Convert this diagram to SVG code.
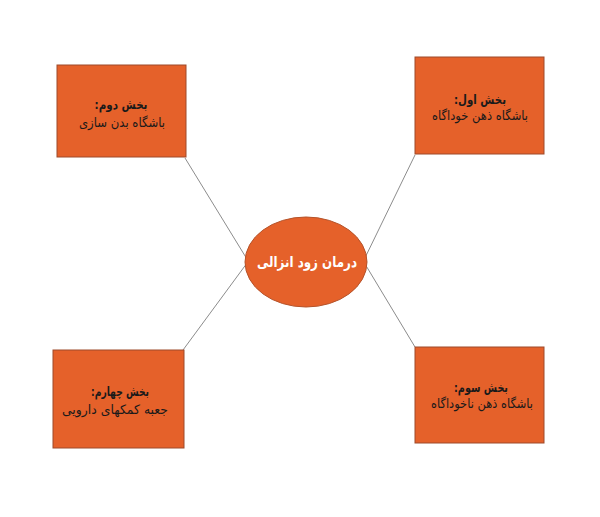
<svg xmlns="http://www.w3.org/2000/svg" width="600" height="517" viewBox="0 0 600 517">
<style>
.box{fill:#E5612A;stroke:#9E4A2A;stroke-width:1}
.ell{fill:#E5612A;stroke:#B5532A;stroke-width:1}
.con{stroke:#8C8C8C;stroke-width:1;fill:none}
.t{font-family:"DejaVu Sans","Noto Sans",sans-serif;font-size:13px;fill:#1a1a1a;text-anchor:middle;direction:rtl}
.b{font-weight:bold}
.c{font-family:"DejaVu Sans","Noto Sans",sans-serif;font-size:15px;font-weight:bold;fill:#ffffff;text-anchor:middle;direction:rtl}
</style>
<rect width="600" height="517" fill="#ffffff"/>
<g id="connectors">
<line class="con" x1="185" y1="158" x2="250" y2="264"/>
<line class="con" x1="183" y1="350" x2="250" y2="259"/>
<line class="con" x1="415" y1="155" x2="362" y2="264"/>
<line class="con" x1="415" y1="347" x2="362" y2="259"/>
</g>
<g id="node-center">
<ellipse class="ell" cx="306" cy="262" rx="61" ry="45"/>
<text class="c" x="307" y="267" textLength="100" lengthAdjust="spacingAndGlyphs">درمان زود انزالی</text>
</g>
<g id="node-2">
<rect class="box" x="57" y="65" width="129" height="92"/>
<text class="t b" x="121" y="109" textLength="53" lengthAdjust="spacingAndGlyphs">بخش دوم:</text>
<text class="t" x="122" y="127" textLength="86" lengthAdjust="spacingAndGlyphs">باشگاه بدن سازی</text>
</g>
<g id="node-1">
<rect class="box" x="415" y="57" width="129" height="97"/>
<text class="t b" x="480" y="104" textLength="52" lengthAdjust="spacingAndGlyphs">بخش اول:</text>
<text class="t" x="480" y="120" textLength="96" lengthAdjust="spacingAndGlyphs">باشگاه ذهن خوداگاه</text>
</g>
<g id="node-4">
<rect class="box" x="53" y="350" width="131" height="98"/>
<text class="t b" x="120" y="396" textLength="58" lengthAdjust="spacingAndGlyphs">بخش چهارم:</text>
<text class="t" x="115" y="414" textLength="106" lengthAdjust="spacingAndGlyphs">جعبه کمکهای دارویی</text>
</g>
<g id="node-3">
<rect class="box" x="415" y="347" width="129" height="96"/>
<text class="t b" x="481" y="392" textLength="54" lengthAdjust="spacingAndGlyphs">بخش سوم:</text>
<text class="t" x="482" y="408" textLength="102" lengthAdjust="spacingAndGlyphs">باشگاه ذهن ناخوداگاه</text>
</g>
</svg>
